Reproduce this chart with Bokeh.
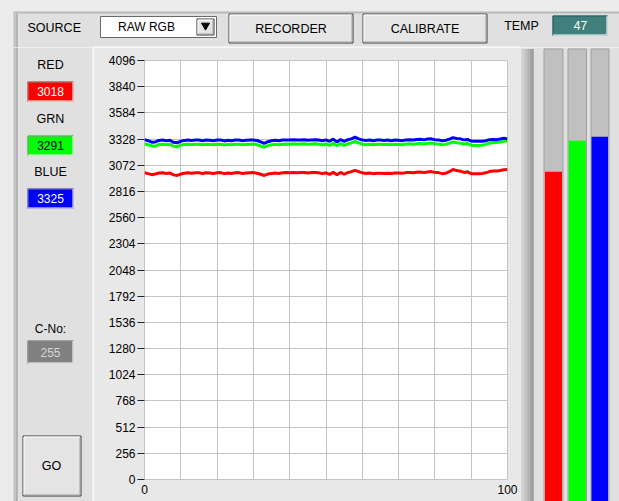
from bokeh.plotting import figure
from bokeh.layouts import column, row
from bokeh.models import Range1d, FixedTicker
from bokeh.core.properties import value
from bokeh.embed import file_html
from bokeh.resources import INLINE

# ---------------- data ----------------
x_vals = list(range(101))
red = [2998, 2990, 2980, 2986, 2996, 2998, 2992, 2996, 2978, 2972,
       2986, 2994, 2998, 2994, 2998, 2998, 2992, 2998, 2996, 2992,
       2998, 3000, 2990, 2996, 2992, 2998, 3000, 2992, 2996, 2998,
       3000, 2994, 2984, 2972, 2986, 2992, 2996, 2992, 2998, 3000,
       2998, 3002, 2998, 3000, 3002, 2996, 3000, 3002, 2998, 2990,
       2998, 2982, 3004, 2980, 3002, 2984, 3000, 3010, 3022, 3010,
       2998, 2992, 2996, 2990, 2994, 2994, 2992, 2994, 2992, 2996,
       2996, 2994, 3000, 3002, 2998, 3004, 3006, 3000, 3006, 3010,
       3002, 3000, 2990, 2994, 3010, 3030, 3020, 3014, 3002, 3008,
       2990, 2990, 2990, 2992, 2998, 3010, 3016, 3016, 3020, 3028, 3030]
green = [3282, 3272, 3262, 3258, 3276, 3278, 3272, 3276, 3258, 3252,
         3268, 3276, 3278, 3274, 3278, 3278, 3272, 3278, 3276, 3272,
         3278, 3278, 3270, 3276, 3272, 3278, 3278, 3272, 3276, 3278,
         3280, 3274, 3262, 3248, 3264, 3272, 3276, 3272, 3278, 3280,
         3278, 3282, 3278, 3280, 3282, 3276, 3280, 3282, 3278, 3272,
         3280, 3266, 3286, 3262, 3284, 3266, 3282, 3290, 3304, 3290,
         3278, 3272, 3278, 3272, 3278, 3278, 3274, 3278, 3272, 3278,
         3276, 3272, 3280, 3282, 3278, 3282, 3286, 3280, 3286, 3290,
         3282, 3280, 3272, 3276, 3288, 3300, 3292, 3288, 3280, 3284,
         3268, 3266, 3266, 3268, 3276, 3288, 3292, 3294, 3298, 3306, 3310]
blue = [3322, 3312, 3298, 3300, 3315, 3318, 3312, 3316, 3296, 3292,
        3306, 3315, 3318, 3314, 3318, 3318, 3312, 3318, 3316, 3312,
        3318, 3318, 3310, 3316, 3312, 3318, 3318, 3312, 3316, 3318,
        3318, 3314, 3300, 3285, 3302, 3312, 3316, 3312, 3318, 3320,
        3318, 3322, 3318, 3320, 3322, 3316, 3320, 3322, 3318, 3312,
        3320, 3306, 3328, 3300, 3324, 3306, 3322, 3330, 3346, 3330,
        3318, 3314, 3318, 3312, 3318, 3318, 3314, 3318, 3312, 3318,
        3316, 3312, 3320, 3322, 3318, 3324, 3326, 3320, 3328, 3330,
        3322, 3320, 3312, 3316, 3328, 3342, 3334, 3330, 3320, 3324,
        3308, 3306, 3306, 3306, 3312, 3322, 3324, 3322, 3328, 3336, 3330]
y_ticks = [0, 256, 512, 768, 1024, 1280, 1536, 1792, 2048, 2304,
           2560, 2816, 3072, 3328, 3584, 3840, 4096]
x_label_ticks = [0, 100]
x_grid_ticks = [10, 20, 30, 40, 50, 60, 70, 80, 90]
channel_names = ["RED", "GRN", "BLUE"]
channel_values = [3018, 3291, 3325]
channel_colors = ["#ff0000", "#00ff00", "#0000ff"]
channel_text_colors = ["white", "black", "white"]
temp_value = 47
c_no = 255
source_choice = "RAW RGB"
button_labels = ["RECORDER", "CALIBRATE"]

# ---------------- styles ----------------
BG = "#e0e0e0"
PANEL = "#e8e8e8"
FONT_NAME = "Liberation Sans"
FONT = value(FONT_NAME)
W, H = 619, 501
TOP_H = 47


def pix_fig(x0, x1, y0, y1):
    f = figure(width=x1 - x0, height=y1 - y0,
               x_range=Range1d(x0, x1), y_range=Range1d(y1, y0),
               x_axis_location=None, y_axis_location=None,
               output_backend="svg", toolbar_location=None, tools="",
               min_border=0, frame_align=False)
    f.grid.visible = False
    f.outline_line_color = None
    f.background_fill_color = BG
    f.border_fill_color = BG
    return f


def label(f, x, y, txt, size="12px", color="black", align="center"):
    f.text(x=[x], y=[y], text=[txt], text_font=FONT, text_font_size=size,
           text_color=color, text_align=align, text_baseline="middle")


def sunken(f, l, r, t, b, fill):
    f.quad(left=l, right=r, top=t, bottom=b, fill_color=fill, line_color=None)
    f.line(x=[l + 0.5, l + 0.5, r], y=[b, t + 0.5, t + 0.5], line_color="#8c8c8c", line_width=1)
    f.line(x=[l + 0.5, r - 0.5, r - 0.5], y=[b - 0.5, b - 0.5, t + 0.5], line_color="white", line_width=1)


def button(f, l, r, t, b, face="#e6e6e6"):
    f.quad(left=l, right=r, top=t, bottom=b, fill_color=face, line_color=None)
    f.line(x=[l + 0.5, l + 0.5, r - 0.5, r - 0.5, l + 0.5], y=[t + 0.5, b - 0.5, b - 0.5, t + 0.5, t + 0.5],
           line_color="#3a3a3a", line_width=1)
    f.line(x=[l + 1.5, l + 1.5, r - 1.5], y=[b - 1.5, t + 1.5, t + 1.5], line_color="white", line_width=1)
    f.line(x=[l + 1.5, r - 1.5, r - 1.5], y=[b - 1.5, b - 1.5, t + 1.5], line_color="#a0a0a0", line_width=1)


# ---------------- top strip ----------------
top = pix_fig(0, W, 0, TOP_H)
top.quad(left=0, right=13, top=0, bottom=TOP_H, fill_color="#ececec", line_color=None)
top.quad(left=0, right=W, top=0, bottom=12, fill_color="#ececec", line_color=None)
top.quad(left=13, right=W, top=11, bottom=13, fill_color="#b8b8b8", line_color=None)
top.quad(left=13, right=16, top=11, bottom=TOP_H, fill_color="#c4c4c4", line_color=None)
top.segment(x0=[16.5], y0=[13], x1=[16.5], y1=[TOP_H], line_color="#909090")
label(top, 27, 27.5, "SOURCE", size="12.5px", align="left")
# dropdown
top.quad(left=100, right=216, top=16, bottom=37, fill_color="white", line_color="#6a6a6a")
label(top, 146, 26, source_choice, size="12px")
button(top, 196, 214, 18, 35, face="#e4e4e4")
top.scatter(x=[205], y=[25], marker="inverted_triangle", size=8, color="black")
# buttons
button(top, 228, 353, 13, 43)
label(top, 290.5, 28, button_labels[0], size="12.5px")
button(top, 362, 487, 13, 43)
label(top, 424.5, 28, button_labels[1], size="12.5px")
# temp
label(top, 521, 25, "TEMP", size="12.5px")
top.quad(left=552, right=607, top=15, bottom=35, fill_color="#3f7f7c", line_color=None)
top.line(x=[552.5, 552.5, 607], y=[35, 15.5, 15.5], line_color="#2a5a58")
top.line(x=[552.5, 606.5, 606.5], y=[34.5, 34.5, 15.5], line_color="white")
label(top, 580, 25, str(temp_value), size="12px", color="white")
# chart panel top highlight
top.segment(x0=[93], y0=[46.5], x1=[520], y1=[46.5], line_color="white")

# ---------------- left panel ----------------
left = pix_fig(0, 93, TOP_H, H)
left.quad(left=0, right=13, top=TOP_H, bottom=H, fill_color="#ececec", line_color=None)
left.quad(left=13, right=16, top=TOP_H, bottom=H, fill_color="#c4c4c4", line_color=None)
left.segment(x0=[16.5], y0=[TOP_H], x1=[16.5], y1=[H], line_color="#909090")
name_y = [64, 118, 171]
box_t = [81, 135, 188]
for i in range(3):
    label(left, 50, name_y[i], channel_names[i], size="12.5px")
    sunken(left, 27, 73, box_t[i], box_t[i] + 20, channel_colors[i])
    label(left, 50, box_t[i] + 10, str(channel_values[i]), size="12px", color=channel_text_colors[i])
label(left, 50, 328, "C-No:", size="12px")
sunken(left, 27, 73, 340, 363, "#808080")
label(left, 50, 351.5, str(c_no), size="12px", color="#d6d6d6")
button(left, 22, 81, 435, 496, face="#e4e4e4")
label(left, 51, 465, "GO", size="12.5px")
left.segment(x0=[92.5], y0=[TOP_H], x1=[92.5], y1=[H], line_color="white")

# ---------------- chart (x 93..520) ----------------
p = figure(width=427, height=H - TOP_H, x_range=Range1d(0, 100), y_range=Range1d(0, 4096),
           output_backend="svg", toolbar_location=None, tools="", frame_align=False,
           min_border_left=51, min_border_right=13, min_border_top=13, min_border_bottom=22)
p.background_fill_color = "white"
p.border_fill_color = PANEL
p.outline_line_color = "#c4c4c4"
p.xaxis.ticker = FixedTicker(ticks=x_label_ticks)
p.yaxis.ticker = FixedTicker(ticks=y_ticks)
p.xgrid.ticker = FixedTicker(ticks=x_grid_ticks)
p.ygrid.ticker = FixedTicker(ticks=y_ticks)
p.grid.grid_line_color = "#c4c4c4"
p.grid.grid_line_width = 1
for ax in (p.xaxis[0], p.yaxis[0]):
    ax.axis_line_color = None
    ax.minor_tick_line_color = None
    ax.major_label_text_font = FONT_NAME
    ax.major_label_text_font_size = "12px"
    ax.major_label_text_color = "black"
p.yaxis.major_tick_in = 0
p.yaxis.major_tick_out = 7
p.yaxis.major_tick_line_color = "#202020"
p.yaxis.major_label_standoff = 2
p.xaxis.major_tick_in = 0
p.xaxis.major_tick_out = 0
p.xaxis.major_tick_line_color = None
p.xaxis.major_label_standoff = 5

p.line(x_vals, red, line_color=channel_colors[0], line_width=3)
p.line(x_vals, green, line_color=channel_colors[1], line_width=3)
p.line(x_vals, blue, line_color=channel_colors[2], line_width=3)

# ---------------- level bars (x 520..619) ----------------
bars = figure(width=W - 520, height=H - TOP_H, x_range=Range1d(520, W), y_range=Range1d(123, 4109),
              x_axis_location=None, y_axis_location=None, frame_align=False,
              output_backend="svg", toolbar_location=None, tools="", min_border=0)
bars.grid.visible = False
bars.outline_line_color = None
bars.background_fill_color = BG
bars.border_fill_color = BG
bevel_cols = ["#d4d4d4", "#d0d0d0", "#cbcbcb", "#c6c6c6", "#c0c0c0", "#bababa",
              "#b3b3b3", "#acacac", "#a4a4a4", "#9c9c9c", "#939393", "#8a8a8a", "#7e7e7e"]
for k, c in enumerate(bevel_cols):
    bars.quad(left=520 + k, right=521 + k, bottom=0, top=4096, fill_color=c, line_color=None)
col_left = [543.5, 567.5, 590.5]
col_right = [562.5, 586.0, 608.5]
bar_x = [553.0, 576.75, 599.25]
bar_w = [17.0, 17.0, 16.5]
bars.quad(left=col_left, right=col_right, bottom=0, top=4096,
          fill_color="#c0c0c0", line_color="#a0a0a0", line_width=1)
bars.vbar(x=bar_x, width=bar_w, bottom=0, top=channel_values,
          fill_color=channel_colors, line_color=None)

layout = column(top, row(left, p, bars))
open("out.html", "w").write(file_html(layout, INLINE))
